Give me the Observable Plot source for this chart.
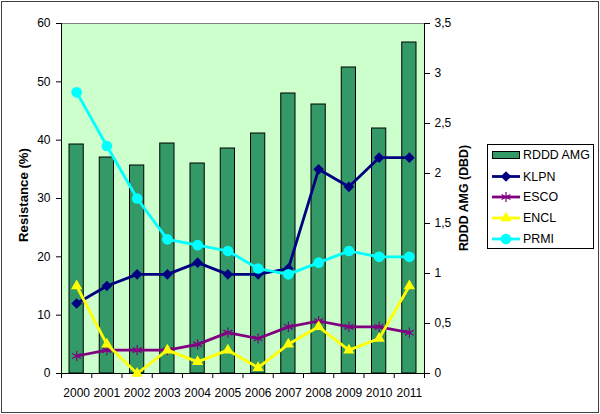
<!DOCTYPE html>
<html>
<head>
<meta charset="utf-8">
<script src="https://cdn.jsdelivr.net/npm/d3@7"></script>
<script src="https://cdn.jsdelivr.net/npm/@observablehq/plot@0.6"></script>
<style>
  html, body { margin: 0; padding: 0; background: white; }
  #wrap { position: relative; width: 600px; height: 414px; font-family: "Liberation Sans", Arial, sans-serif; }
  #wrap > svg.plotsvg { position: absolute; left: 0; top: 0; margin: 0; }
  #border { position: absolute; left: 1px; top: 1px; width: 598px; height: 412px; box-sizing: border-box; border: 1px solid #404040; pointer-events: none; }
</style>
</head>
<body>
<div id="wrap"><div id="border"></div></div>
<script>
// ---- data ----
const years = [2000, 2001, 2002, 2003, 2004, 2005, 2006, 2007, 2008, 2009, 2010, 2011];
const rddd  = [2.29, 2.16, 2.08, 2.30, 2.10, 2.25, 2.40, 2.80, 2.69, 3.06, 2.45, 3.31];
const klpn  = [12, 15, 17, 17, 19, 17, 17, 18, 35, 32, 37, 37];
const esco  = [3, 4, 4, 4, 5, 7, 6, 8, 9, 8, 8, 7];
const encl  = [15, 5, 0, 4, 2, 4, 1, 5, 8, 4, 6, 15];
const prmi  = [48.2, 39, 30, 23, 22, 21, 18, 17, 19, 21, 20, 20];
const leftTicks  = [0, 10, 20, 30, 40, 50, 60];
const rightTicks = [0, 0.5, 1, 1.5, 2, 2.5, 3, 3.5];
const barName = "RDDD AMG";
const seriesNames = ["KLPN", "ESCO", "ENCL", "PRMI"];
const leftTitle = "Resistance (%)";
const rightTitle = "RDDD AMG (DBD)";

// ---- styling ----
const barColor = "#339966";
const series = [
  {name: seriesNames[0], values: klpn, color: "#000080", symbol: "diamond2", r: 4.8, filled: true},
  {name: seriesNames[1], values: esco, color: "#800080", symbol: "asterisk", r: 4.8, filled: false},
  {name: seriesNames[2], values: encl, color: "#FFFF00", symbol: "triangle", r: 4.2, filled: true},
  {name: seriesNames[3], values: prmi, color: "#00FFFF", symbol: "circle", r: 5.3, filled: true}
];

const W = 600, H = 414;
const margins = {marginLeft: 61, marginRight: 176, marginTop: 23, marginBottom: 41};
const xDomain = [years[0] - 0.5, years[years.length - 1] + 0.5];
const boundaries = years.map(y => y - 0.5).concat([years[years.length - 1] + 0.5]);
const font = {fontFamily: "Liberation Sans, Arial, sans-serif", fontSize: "12px", color: "black"};

const barData = years.map((year, i) => ({year, v: rddd[i]}));

const barsPlot = Plot.plot({
  width: W, height: H, ...margins,
  x: {type: "linear", domain: xDomain, axis: null},
  y: {domain: [0, 3.5]},
  style: {...font, background: "white"},
  marks: [
    Plot.frame({fill: "#CCFFCC", stroke: "#808080"}),
    Plot.rectY(barData, {x1: d => d.year - 0.5, x2: d => d.year + 0.5, y: "v", insetLeft: 8, insetRight: 8, fill: barColor, stroke: "black", strokeWidth: 1}),
    Plot.ruleX([xDomain[1]], {stroke: "black"}),
    Plot.axisY({anchor: "right", ticks: rightTicks, tickSize: 5, tickPadding: 5,
      tickFormat: d => String(d).replace(".", ","), label: null}),
    Plot.text([rightTitle], {text: d => d, frameAnchor: "right", rotate: -90, dx: 40, dy: -0.5,
      fontWeight: "bold", fontSize: 12.4, textAnchor: "middle", lineAnchor: "middle"})
  ]
});

const lineMarks = [];
for (const s of series) {
  const data = years.map((year, i) => ({year, v: s.values[i]}));
  lineMarks.push(Plot.line(data, {x: "year", y: "v", stroke: s.color, strokeWidth: 2.8}));
  if (s.filled) {
    lineMarks.push(Plot.dot(data, {x: "year", y: "v", symbol: s.symbol, r: s.r, fill: s.color, stroke: "none"}));
  } else {
    lineMarks.push(Plot.dot(data, {x: "year", y: "v", symbol: s.symbol, r: s.r, fill: "none", stroke: s.color, strokeWidth: 1.2}));
  }
}

const linesPlot = Plot.plot({
  width: W, height: H, ...margins,
  x: {type: "linear", domain: xDomain},
  y: {domain: [0, 60]},
  style: {...font, background: "transparent"},
  marks: [
    Plot.ruleX([xDomain[0]], {stroke: "black"}),
    Plot.ruleY([0], {stroke: "black"}),
    Plot.axisY({ticks: leftTicks, tickSize: 5, tickPadding: 6, label: null}),
    Plot.text([leftTitle], {text: d => d, frameAnchor: "left", rotate: -90, dx: -38, dy: -3.5,
      fontWeight: "bold", fontSize: 13.2, textAnchor: "middle", lineAnchor: "middle"}),
    Plot.axisX({ticks: boundaries, tickSize: 5, tickFormat: () => " ", label: null}),
    Plot.axisX({ticks: years, tickSize: 0, tickPadding: 15, tickFormat: d => String(d), label: null}),
    ...lineMarks
  ]
});

const wrap = document.getElementById("wrap");
barsPlot.classList.add("plotsvg");
linesPlot.classList.add("plotsvg");
wrap.insertBefore(barsPlot, wrap.firstChild);
wrap.insertBefore(linesPlot, barsPlot.nextSibling);

// ---- legend ----
const lw = 107, lh = 105, rowY = [11, 32.5, 53, 74, 95];
const leg = d3.create("svg").attr("id", "legend").attr("width", lw).attr("height", lh)
  .style("position", "absolute").style("left", "487px").style("top", "144px")
  .style("font-family", "Liberation Sans, Arial, sans-serif").style("font-size", "12.4px");
leg.append("rect").attr("x", 0.5).attr("y", 0.5).attr("width", lw - 1).attr("height", lh - 1).attr("fill", "white").attr("stroke", "black");
leg.append("rect").attr("x", 5.5).attr("y", rowY[0] - 3.5).attr("width", 27).attr("height", 7).attr("fill", barColor).attr("stroke", "black");
leg.append("text").attr("x", 36).attr("y", rowY[0]).attr("dy", "0.35em").text(barName);
series.forEach((s, i) => {
  const y = rowY[i + 1];
  leg.append("line").attr("x1", 5).attr("x2", 33).attr("y1", y).attr("y2", y).attr("stroke", s.color).attr("stroke-width", 2.8);
  const sym = {diamond2: d3.symbolDiamond2, asterisk: d3.symbolAsterisk, triangle: d3.symbolTriangle, circle: d3.symbolCircle}[s.symbol];
  const p = leg.append("path").attr("transform", `translate(19,${y})`).attr("d", d3.symbol(sym, Math.PI * s.r * s.r)());
  if (s.filled) p.attr("fill", s.color); else p.attr("fill", "none").attr("stroke", s.color).attr("stroke-width", 1.2);
  leg.append("text").attr("x", 36).attr("y", y).attr("dy", "0.35em").text(s.name);
});
wrap.appendChild(leg.node());
</script>
</body>
</html>
